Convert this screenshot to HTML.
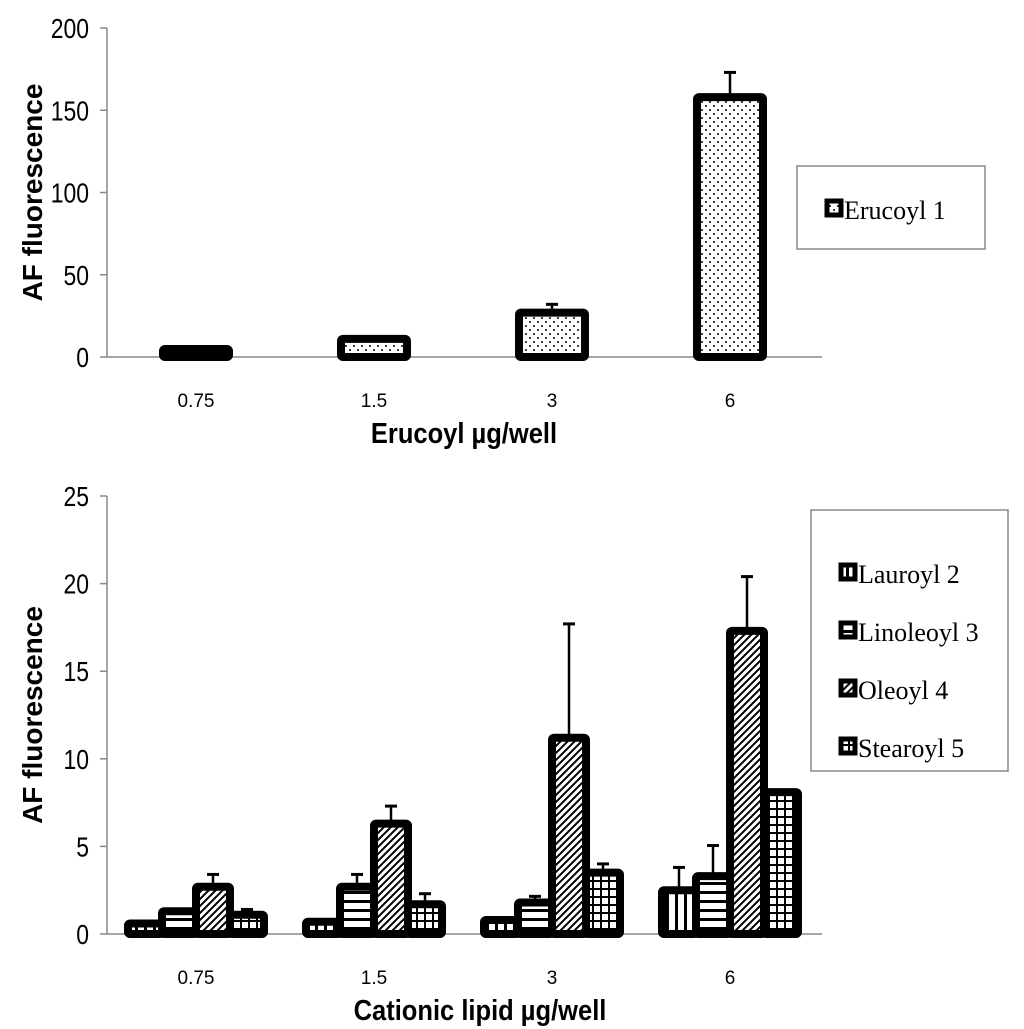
<!DOCTYPE html>
<html><head><meta charset="utf-8"><style>
body{margin:0;background:#fff}
svg{display:block}
</style></head><body>
<svg id="c" width="1024" height="1029" xmlns="http://www.w3.org/2000/svg">
<defs>
<pattern id="pDots" width="8" height="8" patternUnits="userSpaceOnUse"><rect width="8" height="8" fill="#fff"/><circle cx="2" cy="2" r="1" fill="#000"/><circle cx="6" cy="6" r="1" fill="#000"/></pattern>
<pattern id="pVert" width="9" height="9" patternUnits="userSpaceOnUse"><rect width="9" height="9" fill="#fff"/><rect x="0" width="3" height="9" fill="#000"/></pattern>
<pattern id="pHorz" width="9" height="9" patternUnits="userSpaceOnUse"><rect width="9" height="9" fill="#fff"/><rect y="0" width="9" height="3" fill="#000"/></pattern>
<pattern id="pDiag" width="7" height="7" patternUnits="userSpaceOnUse"><rect width="7" height="7" fill="#fff"/><path d="M-1,8 L8,-1 M-2,2 L2,-2 M5,9 L9,5" stroke="#000" stroke-width="2"/></pattern>
<pattern id="pGrid" width="8" height="8" patternUnits="userSpaceOnUse"><rect width="8" height="8" fill="#fff"/><rect width="2" height="8" fill="#000"/><rect width="8" height="2" fill="#000"/></pattern>
</defs>
</svg>
<script>
const categories=["0.75","1.5","3","6"];
const erucoyl=[2,11,27,158];
const erucoylErr=[2,1,5,15];
const topTicks=[0,50,100,150,200];
const seriesNames=["Lauroyl 2","Linoleoyl 3","Oleoyl 4","Stearoyl 5"];
const lauroyl=[0.6,0.7,0.8,2.5];
const linoleoyl=[1.3,2.7,1.8,3.3];
const oleoyl=[2.7,6.3,11.2,17.3];
const stearoyl=[1.1,1.7,3.5,8.1];
const lauroylErr=[0.05,0.05,0.05,1.3];
const linoleoylErr=[0.05,0.7,0.35,1.75];
const oleoylErr=[0.7,1.0,6.5,3.1];
const stearoylErr=[0.3,0.6,0.5,0.05];
const botTicks=[0,5,10,15,20,25];

const NS="http://www.w3.org/2000/svg";
const svg=document.getElementById('c');
function el(tag,attrs,text){const e=document.createElementNS(NS,tag);for(const k in attrs)e.setAttribute(k,attrs[k]);if(text!==undefined)e.textContent=text;svg.appendChild(e);return e;}
function c_(i){return categories[i].replace('.','-');}

function chart(o){
  const x0=107,x1=822,slot=178;
  const y=v=>o.yb-(v/o.max)*(o.yb-o.yt);
  const cx=i=>x0+slot*(i+0.5);
  let a=el('line',{x1:x0,y1:o.yt,x2:x0,y2:o.yb,stroke:'#888','stroke-width':1.5});
  
  a=el('line',{x1:x0,y1:o.yb,x2:x1,y2:o.yb,stroke:'#888','stroke-width':1.5});
  
  o.ticks.forEach(t=>{
    let l=el('line',{x1:x0-7,y1:y(t),x2:x0,y2:y(t),stroke:'#888','stroke-width':1.5});
    
    let tx=el('text',{x:0,y:0,transform:`translate(${x0-18},${y(t)+10}) scale(0.82,1)`,'text-anchor':'end','font-family':'Liberation Sans, sans-serif','font-size':28},t);
    
  });
  categories.forEach((c,i)=>{
    let tx=el('text',{x:cx(i),y:o.yb+50,'text-anchor':'middle','font-family':'Liberation Sans, sans-serif','font-size':19},c);
    
  });
  o.series.forEach((s,si)=>{
    s.vals.forEach((v,i)=>{
      const bx=cx(i)-o.groupW/2+si*o.bw;
      const top=y(v);
      let e=el('line',{x1:bx+o.bw/2,y1:y(v+s.err[i]),x2:bx+o.bw/2,y2:top,stroke:'#000','stroke-width':2.5});
      
      e=el('line',{x1:bx+o.bw/2-6,y1:y(v+s.err[i]),x2:bx+o.bw/2+6,y2:y(v+s.err[i]),stroke:'#000','stroke-width':3});
      
      let r=el('rect',{x:bx,y:Math.min(top,o.yb-8),width:o.bw,height:Math.max(o.yb-top,8),fill:'url(#'+s.pat+')',stroke:'#000','stroke-width':8,rx:2});
      
      
    });
  });
  let t=el('text',{x:0,y:0,transform:`translate(${o.ytx},${(o.yt+o.yb)/2}) rotate(-90)`,'text-anchor':'middle','font-family':'Liberation Sans, sans-serif','font-weight':'bold','font-size':28},'AF fluorescence');
  
  t=el('text',{x:0,y:0,transform:`translate(${o.xtx},${o.yb+86}) scale(0.88,1)`,'text-anchor':'middle','font-family':'Liberation Sans, sans-serif','font-weight':'bold','font-size':29},o.xt);
  
  let lg=el('rect',{x:o.lx,y:o.ly,width:o.lw,height:o.lh,fill:'#fff',stroke:'#888','stroke-width':1.5});
  
  o.series.forEach((s,si)=>{
    const yy=o.ly+o.l0+si*o.lstep;
    let k=el('rect',{x:o.lx+30,y:yy-9,width:14,height:14,fill:'url(#'+s.pat+')',stroke:'#000','stroke-width':5});
    
    let lt=el('text',{x:o.lx+47,y:yy+9,'font-family':'Liberation Serif, serif','font-size':26},s.name);
    
  });
}

chart({p:'top',yt:28,yb:357,max:200,ticks:topTicks,bw:66,groupW:66,
  series:[{name:'Erucoyl 1',vals:erucoyl,err:erucoylErr,pat:'pDots'}],
  ytx:42,xtx:464,xt:'Erucoyl µg/well',lx:797,ly:166,lw:188,lh:83,l0:44,lstep:0});
chart({p:'bottom',yt:496,yb:934,max:25,ticks:botTicks,bw:34,groupW:136,
  series:[{name:'Lauroyl 2',vals:lauroyl,err:lauroylErr,pat:'pVert'},
          {name:'Linoleoyl 3',vals:linoleoyl,err:linoleoylErr,pat:'pHorz'},
          {name:'Oleoyl 4',vals:oleoyl,err:oleoylErr,pat:'pDiag'},
          {name:'Stearoyl 5',vals:stearoyl,err:stearoylErr,pat:'pGrid'}],
  ytx:42,xtx:480,xt:'Cationic lipid µg/well',lx:811,ly:510,lw:197,lh:261,l0:64,lstep:58});
</script>
</body></html>
